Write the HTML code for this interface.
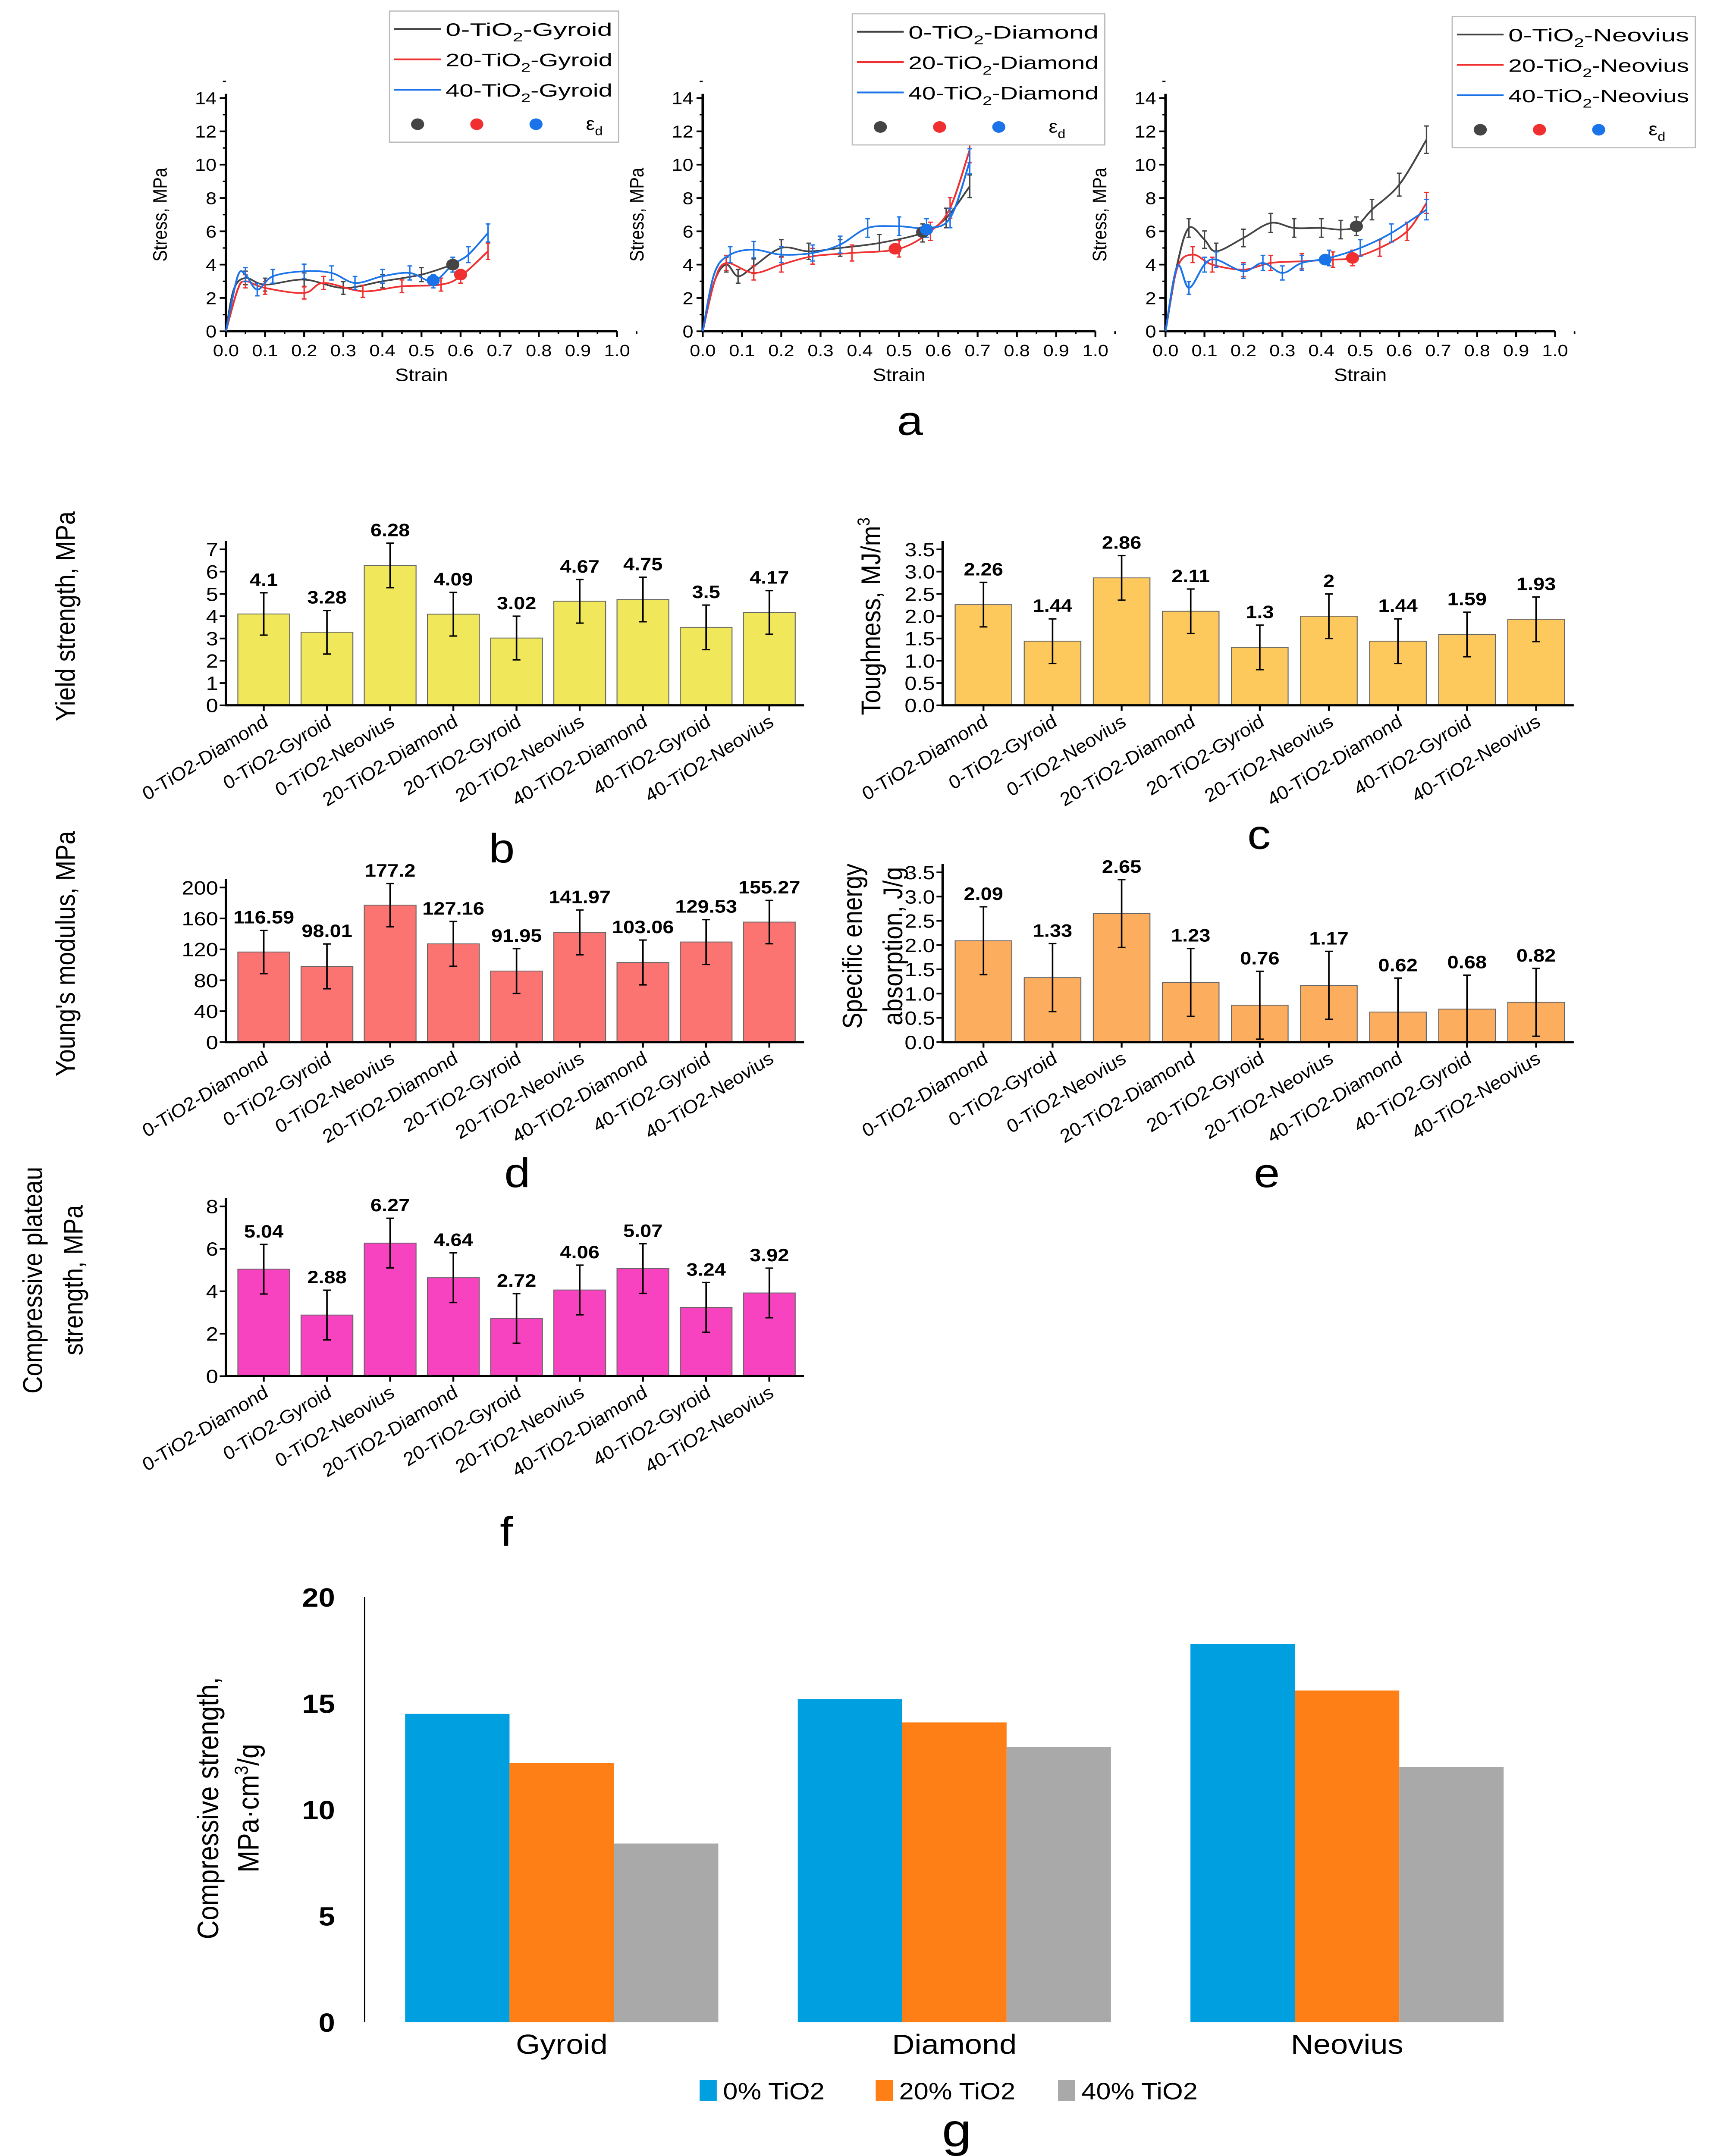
<!DOCTYPE html>
<html><head><meta charset="utf-8"><style>
html,body{margin:0;padding:0;background:#fff;width:100%;height:100%;overflow:hidden;}
svg{display:block;position:fixed;left:0;top:0;width:100vw;height:100vh;font-family:"Liberation Sans",sans-serif;}
</style></head><body>
<svg id="fig" xmlns="http://www.w3.org/2000/svg" viewBox="0 0 1100 1562" preserveAspectRatio="none">
<rect width="1100" height="1562" fill="#fff"/>
<g id="root"></g>
</svg>
<script>
// ---------- Panel a data ----------
const strainTicks = ["0.0","0.1","0.2","0.3","0.4","0.5","0.6","0.7","0.8","0.9","1.0"];
const stressTicks = [0,2,4,6,8,10,12,14];
const gyroidBlackX = [0,0.02,0.05,0.1,0.2,0.3,0.4,0.5,0.58];
const gyroidBlackY = [0,2.5,3.2,2.8,3.1,2.6,3.0,3.4,4.0];
const gyroidRedX = [0,0.03,0.05,0.1,0.2,0.25,0.35,0.45,0.55,0.6,0.67];
const gyroidRedY = [0,2.5,3.0,2.6,2.3,2.9,2.4,2.7,2.8,3.3,4.8];
const gyroidBlueX = [0,0.03,0.05,0.08,0.12,0.2,0.27,0.33,0.4,0.47,0.53,0.58,0.62,0.67];
const gyroidBlueY = [0,3.3,3.4,2.5,3.3,3.6,3.5,2.9,3.3,3.5,3.0,4.0,4.6,5.9];
const gyroidDots = [[0.58,4.0],[0.6,3.4],[0.53,3.05]];
const diamondBlackX = [0,0.03,0.06,0.09,0.13,0.2,0.27,0.35,0.45,0.56,0.62,0.68];
const diamondBlackY = [0,3,4.0,3.3,3.9,5.0,4.8,5.0,5.3,5.9,6.8,8.7];
const diamondRedX = [0,0.03,0.06,0.13,0.2,0.28,0.38,0.5,0.58,0.63,0.68];
const diamondRedY = [0,3,4.1,3.5,4.0,4.5,4.7,4.95,6.0,7.4,10.9];
const diamondBlueX = [0,0.03,0.07,0.13,0.2,0.28,0.35,0.42,0.5,0.57,0.63,0.68];
const diamondBlueY = [0,3.5,4.6,4.9,4.6,4.7,5.2,6.2,6.3,6.2,6.8,10.2];
const diamondDots = [[0.56,5.95],[0.49,4.95],[0.57,6.1]];
const neoBlackX = [0,0.03,0.06,0.1,0.13,0.2,0.27,0.33,0.4,0.45,0.49,0.53,0.6,0.67];
const neoBlackY = [0,4,6.2,5.5,4.8,5.6,6.5,6.2,6.2,6.1,6.3,7.3,8.8,11.5];
const neoRedX = [0,0.03,0.07,0.12,0.2,0.27,0.35,0.43,0.48,0.55,0.62,0.67];
const neoRedY = [0,3.8,4.6,4.0,3.7,4.1,4.2,4.3,4.4,5.0,6.0,7.7];
const neoBlueX = [0,0.03,0.06,0.1,0.13,0.2,0.25,0.3,0.35,0.42,0.5,0.58,0.67];
const neoBlueY = [0,3.9,2.6,4.0,4.3,3.6,4.1,3.5,4.1,4.4,5.0,5.9,7.3];
const neoDots = [[0.49,6.3],[0.48,4.4],[0.41,4.3]];

// ---------- Bar chart data ----------
const categories = ["0-TiO2-Diamond","0-TiO2-Gyroid","0-TiO2-Neovius","20-TiO2-Diamond","20-TiO2-Gyroid","20-TiO2-Neovius","40-TiO2-Diamond","40-TiO2-Gyroid","40-TiO2-Neovius"];
const yieldValues = [4.1,3.28,6.28,4.09,3.02,4.67,4.75,3.5,4.17];
const yieldErrors = [0.95,0.98,1.0,0.98,0.98,0.98,1.0,1.0,0.98];
const yieldTicks = [0,1,2,3,4,5,6,7];
const toughValues = [2.26,1.44,2.86,2.11,1.3,2,1.44,1.59,1.93];
const toughErrors = [0.5,0.5,0.5,0.5,0.5,0.5,0.5,0.5,0.5];
const toughTicks = ["0.0","0.5","1.0","1.5","2.0","2.5","3.0","3.5"];
const youngValues = [116.59,98.01,177.2,127.16,91.95,141.97,103.06,129.53,155.27];
const youngErrors = [28,29,28,29,29,29,29,29,28];
const youngTicks = [0,40,80,120,160,200];
const seaValues = [2.09,1.33,2.65,1.23,0.76,1.17,0.62,0.68,0.82];
const seaErrors = [0.7,0.7,0.7,0.7,0.7,0.7,0.7,0.7,0.7];
const seaTicks = ["0.0","0.5","1.0","1.5","2.0","2.5","3.0","3.5"];
const plateauValues = [5.04,2.88,6.27,4.64,2.72,4.06,5.07,3.24,3.92];
const plateauErrors = [1.17,1.17,1.17,1.17,1.17,1.17,1.17,1.17,1.17];
const plateauTicks = [0,2,4,6,8];

// ---------- Panel g data ----------
const gCategories = ["Gyroid","Diamond","Neovius"];
const gSeriesNames = ["0% TiO2","20% TiO2","40% TiO2"];
const g0 = [14.5,15.2,17.8];
const g20 = [12.2,14.1,15.6];
const g40 = [8.4,12.95,12.0];
const gTicks = [0,5,10,15,20];

const NS="http://www.w3.org/2000/svg";
const root=document.getElementById('root');
function el(tag,attrs,parent,text){const e=document.createElementNS(NS,tag);for(const k in attrs)e.setAttribute(k,attrs[k]);if(text!==undefined)e.textContent=text;(parent||root).appendChild(e);return e;}

function smoothPath(pts){
  let d=`M${pts[0][0]},${pts[0][1]}`;
  for(let i=0;i<pts.length-1;i++){
    const p0=pts[i-1]||pts[i],p1=pts[i],p2=pts[i+1],p3=pts[i+2]||p2;
    const c1=[p1[0]+(p2[0]-p0[0])/6,p1[1]+(p2[1]-p0[1])/6];
    const c2=[p2[0]-(p3[0]-p1[0])/6,p2[1]-(p3[1]-p1[1])/6];
    d+=` C${c1[0]},${c1[1]} ${c2[0]},${c2[1]} ${p2[0]},${p2[1]}`;
  }
  return d;
}

function stressChart(name,x0,x1,series,dots,legendBox,labels){
  const y0=240,y1=71;
  const g=el('g',{});  
  const sx=v=>x0+(x1-x0)*v, sy=v=>y0-(y0-y1)*v/14;
  const ax=el('path',{d:`M${x0},${y1-3}V${y0}H${x1}`,stroke:'#000','stroke-width':1.6,fill:'none'},g);
   
  strainTicks.forEach((t,i)=>{const x=sx(i/10);
    el('line',{x1:x,x2:x,y1:y0,y2:y0+4,stroke:'#000','stroke-width':1.2},g);
    el('line',{x1:x+(x1-x0)/20,x2:x+(x1-x0)/20,y1:y0,y2:y0+2,stroke:'#000'},g);
    const tx=el('text',{x:x,y:y0+18,'font-size':12,'text-anchor':'middle'},g,t);
     
  });
  stressTicks.forEach(t=>{const y=sy(t);
    el('line',{x1:x0-4,x2:x0,y1:y,y2:y,stroke:'#000','stroke-width':1.2},g);
    el('line',{x1:x0-2,x2:x0,y1:sy(t+1),y2:sy(t+1),stroke:'#000'},g);
    const tx=el('text',{x:x0-6,y:y+4.5,'font-size':12.5,'text-anchor':'end'},g,t);
     
  });
  const xt=el('text',{x:(x0+x1)/2,y:y0+36,'font-size':13,'text-anchor':'middle'},g,'Strain');
   
  const yt=el('text',{x:0,y:0,'font-size':12.5,'text-anchor':'middle',transform:`translate(${x0-38},${(y0+y1)/2}) rotate(-90)`},g,'Stress, MPa');
   
  const cols=['#444','#f03030','#1a73e8'];
  series.forEach((s,k)=>{
    const pts=s[0].map((v,i)=>[sx(v),sy(s[1][i])]);
    const p=el('path',{d:smoothPath(pts),stroke:cols[k],'stroke-width':1.2,fill:'none'},g);
     
    pts.forEach((q,i)=>{ if(i<2) return; const e=3+s[1][i]*0.6;
      el('path',{d:`M${q[0]},${q[1]-e}V${q[1]+e}M${q[0]-1.5},${q[1]-e}h3M${q[0]-1.5},${q[1]+e}h3`,stroke:cols[k],'stroke-width':0.9,fill:'none'},g);});
  });
  const dc=['#444','#f03030','#1a73e8'];
  dots.forEach((d,k)=>{const c=el('circle',{cx:sx(d[0]),cy:sy(d[1]),r:4.2,fill:dc[k]},g);
     });
  const [lx,ly,lw,lh]=legendBox;
  const lg=el('g',{},g);  
  el('rect',{x:lx,y:ly,width:lw,height:lh,fill:'#fff',stroke:'#bbb','stroke-width':0.8},lg);
  labels.forEach((lab,k)=>{const yy=ly+13+k*22;
    el('line',{x1:lx+3,x2:lx+33,y1:yy,y2:yy,stroke:cols[k],'stroke-width':1.3},lg);
    const t=el('text',{x:lx+36,y:yy+5,'font-size':13,'textLength':lw-40,'lengthAdjust':'spacingAndGlyphs'},lg);
     
    el('tspan',{},t,lab[0]); el('tspan',{'font-size':9,dy:4},t,'2'); el('tspan',{dy:-4},t,lab[1]);
  });
  const yy=ly+lh-13;
  [0,1,2].forEach(k=>el('circle',{cx:lx+18+k*38,cy:yy,r:4.2,fill:dc[k]},lg));
  const e=el('text',{x:lx+18+3*36,y:yy+4,'font-size':13},lg); el('tspan',{},e,'ε'); el('tspan',{'font-size':9,dy:4},e,'d');
}
stressChart('gyroid-stress',145,396,[[gyroidBlackX,gyroidBlackY],[gyroidRedX,gyroidRedY],[gyroidBlueX,gyroidBlueY]],gyroidDots,[250,8,147,95],[['0-TiO','-Gyroid'],['20-TiO','-Gyroid'],['40-TiO','-Gyroid']]);
stressChart('diamond-stress',451,703,[[diamondBlackX,diamondBlackY],[diamondRedX,diamondRedY],[diamondBlueX,diamondBlueY]],diamondDots,[547,10,162,95],[['0-TiO','-Diamond'],['20-TiO','-Diamond'],['40-TiO','-Diamond']]);
stressChart('neovius-stress',748,998,[[neoBlackX,neoBlackY],[neoRedX,neoRedY],[neoBlueX,neoBlueY]],neoDots,[932,12,156,95],[['0-TiO','-Neovius'],['20-TiO','-Neovius'],['40-TiO','-Neovius']]);

function barChart(name,x0,x1,y0,y1,ymax,ticks,vals,errs,color,titleLines,titleX){
  const g=el('g',{});  
  const sy=v=>y0-(y0-y1)*v/ymax; const slot=(x1-x0-6)/categories.length; const cx=i=>x0+4+slot*(i+0.5);
  ticks.forEach(t=>{const y=sy(parseFloat(t));
    el('line',{x1:x0-4,x2:x0,y1:y,y2:y,stroke:'#000','stroke-width':1.2},g);
    const tx=el('text',{x:x0-5,y:y+5,'font-size':14,'text-anchor':'end'},g,t);
     });
  vals.forEach((v,i)=>{const x=cx(i),w=slot*0.82;
    const r=el('rect',{x:x-w/2,y:sy(v),width:w,height:y0-sy(v),fill:color,stroke:'#666','stroke-width':0.6},g);
     
    const t=sy(v+errs[i]),b=sy(Math.max(0,v-errs[i]));
    el('path',{d:`M${x},${t}V${b}M${x-2.5},${t}h5M${x-2.5},${b}h5`,stroke:'#000','stroke-width':1,fill:'none'},g);
    const lb=el('text',{x:x,y:t-5,'font-size':13,'font-weight':'bold','text-anchor':'middle'},g,String(v));
     
    el('line',{x1:x,x2:x,y1:y0,y2:y0+4,stroke:'#000','stroke-width':1.2},g);
    const cl=el('text',{x:0,y:0,'font-size':13,'font-style':'italic','text-anchor':'end',transform:`translate(${x+4},${y0+14}) rotate(-35)`},g,categories[i]);
     
  });
  el('path',{d:`M${x0},${y1-6}V${y0}H${x1}`,stroke:'#000','stroke-width':1.6,fill:'none'},g);
  titleLines.forEach((tl,k)=>{const t=el('text',{x:0,y:0,'font-size':17.5,'text-anchor':'middle',transform:`translate(${titleX+k*26},${(y0+y1)/2-8}) rotate(-90)`},g);
     
    if(tl.indexOf('^3')>=0){el('tspan',{},t,tl.replace('^3',''));el('tspan',{'font-size':11,dy:-7},t,'3');} else t.textContent=tl;});
}
barChart('yield-strength',145,516,511,398,7,yieldTicks,yieldValues,yieldErrors,'#f0e85a',['Yield strength, MPa'],48);
barChart('toughness',605,1010,511,398,3.5,toughTicks,toughValues,toughErrors,'#fdc95c',['Toughness, MJ/m^3'],565);
barChart('youngs-modulus',145,516,755,643,200,youngTicks,youngValues,youngErrors,'#fc7472',["Young's modulus, MPa"],48);
barChart('specific-energy',605,1010,755,632,3.5,seaTicks,seaValues,seaErrors,'#fdad5e',['Specific energy','absorption, J/g'],553);
barChart('plateau-strength',145,516,997,874,8,plateauTicks,plateauValues,plateauErrors,'#f743bf',['Compressive plateau','strength, MPa'],27);

[['a',584,315,30],['b',322,625,30],['c',808,615,30],['d',332,860,30],['e',813,860,30],['f',325,1120,30],['g',614,1555,34]].forEach(l=>{
  const t=el('text',{x:l[1],y:l[2],'font-size':l[3],'text-anchor':'middle'},root,l[0]);
   });

(function(){
  const g=el('g',{});  
  const y0=1465,y1=1157,sy=v=>y0-(y0-y1)*v/20;
  const starts=[260,512,764],bw=67,cols=['#009fdf','#ff7f17','#a9a9a9'],series=[g0,g20,g40];
  el('line',{x1:234,x2:234,y1:y1,y2:y0,stroke:'#000','stroke-width':0.8},g);
  gTicks.forEach(t=>{const tx=el('text',{x:215,y:sy(t)+7,'font-size':19,'font-weight':'bold','text-anchor':'end'},g,t);
     });
  gCategories.forEach((c,i)=>{
    series.forEach((s,k)=>{const r=el('rect',{x:starts[i]+k*bw,y:sy(s[i]),width:bw,height:y0-sy(s[i]),fill:cols[k]},g);
       });
    const t=el('text',{x:starts[i]+1.5*bw,y:1488,'font-size':20,'text-anchor':'middle'},g,c);
     
  });
  const lx=[455,568,685];
  gSeriesNames.forEach((n,k)=>{const lg=el('g',{},g);  
    el('rect',{x:lx[k]-6,y:1507,width:11,height:15,fill:cols[k]},lg);
    el('text',{x:lx[k]+9,y:1521,'font-size':17},lg,n);});
  const t1=el('text',{x:0,y:0,'font-size':19,'text-anchor':'middle',transform:'translate(140,1310) rotate(-90)'},g,'Compressive strength,');
   
  const t2=el('text',{x:0,y:0,'font-size':19,'text-anchor':'middle',transform:'translate(166,1310) rotate(-90)'},g);
   
  el('tspan',{},t2,'MPa·cm'); el('tspan',{'font-size':12,dy:-7},t2,'3'); el('tspan',{dy:7},t2,'/g');
})();
</script>
</body></html>
